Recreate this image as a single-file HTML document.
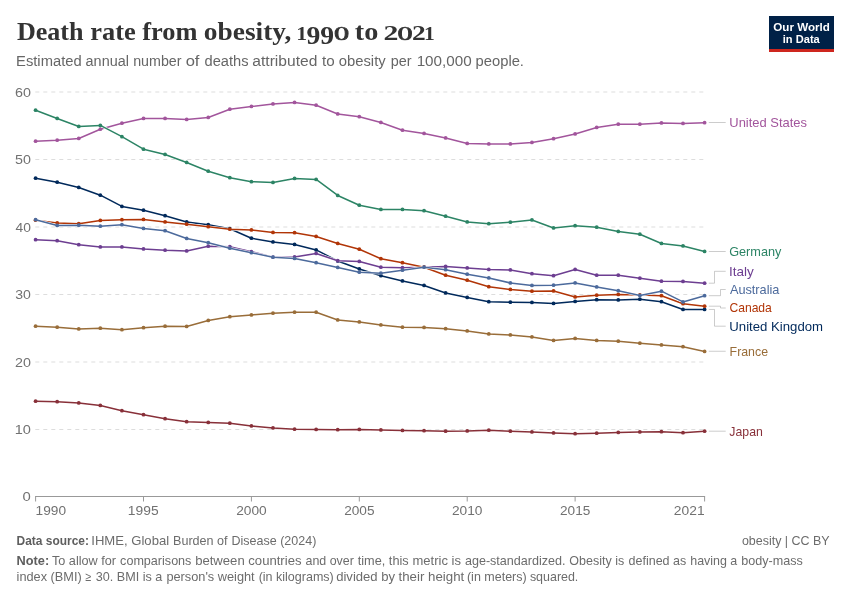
<!DOCTYPE html>
<html lang="en"><head><meta charset="utf-8"><title>Death rate from obesity, 1990 to 2021</title>
<style>
html,body{margin:0;padding:0;background:#fff}
svg{display:block}
text{font-family:"Liberation Sans",sans-serif;white-space:pre}
.t{font-family:"Liberation Serif",serif}
.b{font-weight:bold}
</style></head><body>
<svg width="850" height="600" viewBox="0 0 850 600">
<rect width="850" height="600" fill="#fff"/>
<g id="gfx">
<rect x="769" y="16" width="65" height="36" fill="#002147"/><rect x="769" y="49" width="65" height="3" fill="#ce261e"/>
<line x1="35.3" x2="704.6" y1="92" y2="92" stroke="#ddd" stroke-width="1" stroke-dasharray="4,4"/>
<line x1="35.3" x2="704.6" y1="159.5" y2="159.5" stroke="#ddd" stroke-width="1" stroke-dasharray="4,4"/>
<line x1="35.3" x2="704.6" y1="227" y2="227" stroke="#ddd" stroke-width="1" stroke-dasharray="4,4"/>
<line x1="35.3" x2="704.6" y1="294.5" y2="294.5" stroke="#ddd" stroke-width="1" stroke-dasharray="4,4"/>
<line x1="35.3" x2="704.6" y1="362" y2="362" stroke="#ddd" stroke-width="1" stroke-dasharray="4,4"/>
<line x1="35.3" x2="704.6" y1="429.5" y2="429.5" stroke="#ddd" stroke-width="1" stroke-dasharray="4,4"/>
<line x1="35.1" x2="705.1" y1="496.5" y2="496.5" stroke="#999" stroke-width="1"/>
<line x1="35.60" x2="35.60" y1="496.5" y2="501.5" stroke="#999" stroke-width="1"/>
<line x1="143.50" x2="143.50" y1="496.5" y2="501.5" stroke="#999" stroke-width="1"/>
<line x1="251.41" x2="251.41" y1="496.5" y2="501.5" stroke="#999" stroke-width="1"/>
<line x1="359.31" x2="359.31" y1="496.5" y2="501.5" stroke="#999" stroke-width="1"/>
<line x1="467.21" x2="467.21" y1="496.5" y2="501.5" stroke="#999" stroke-width="1"/>
<line x1="575.12" x2="575.12" y1="496.5" y2="501.5" stroke="#999" stroke-width="1"/>
<line x1="704.60" x2="704.60" y1="496.5" y2="501.5" stroke="#999" stroke-width="1"/>
<g><path d="M35.60,401.20 L57.18,401.70 L78.76,402.95 L100.34,405.45 L121.92,410.70 L143.50,414.70 L165.08,418.70 L186.66,421.70 L208.25,422.45 L229.83,423.20 L251.41,425.95 L272.99,427.95 L294.57,429.20 L316.15,429.45 L337.73,429.70 L359.31,429.45 L380.89,429.95 L402.47,430.45 L424.05,430.70 L445.63,431.20 L467.21,430.95 L488.79,430.20 L510.37,431.20 L531.95,431.95 L553.54,432.95 L575.12,433.70 L596.70,433.20 L618.28,432.45 L639.86,431.95 L661.44,431.70 L683.02,432.70 L704.60,431.20" fill="none" stroke="#fff" stroke-width="2.5" stroke-linejoin="round"/><path d="M35.60,401.20 L57.18,401.70 L78.76,402.95 L100.34,405.45 L121.92,410.70 L143.50,414.70 L165.08,418.70 L186.66,421.70 L208.25,422.45 L229.83,423.20 L251.41,425.95 L272.99,427.95 L294.57,429.20 L316.15,429.45 L337.73,429.70 L359.31,429.45 L380.89,429.95 L402.47,430.45 L424.05,430.70 L445.63,431.20 L467.21,430.95 L488.79,430.20 L510.37,431.20 L531.95,431.95 L553.54,432.95 L575.12,433.70 L596.70,433.20 L618.28,432.45 L639.86,431.95 L661.44,431.70 L683.02,432.70 L704.60,431.20" fill="none" stroke="#883039" stroke-width="1.5" stroke-linejoin="round" stroke-linecap="butt"/><g fill="#883039"><circle cx="35.60" cy="401.20" r="1.9"/><circle cx="57.18" cy="401.70" r="1.9"/><circle cx="78.76" cy="402.95" r="1.9"/><circle cx="100.34" cy="405.45" r="1.9"/><circle cx="121.92" cy="410.70" r="1.9"/><circle cx="143.50" cy="414.70" r="1.9"/><circle cx="165.08" cy="418.70" r="1.9"/><circle cx="186.66" cy="421.70" r="1.9"/><circle cx="208.25" cy="422.45" r="1.9"/><circle cx="229.83" cy="423.20" r="1.9"/><circle cx="251.41" cy="425.95" r="1.9"/><circle cx="272.99" cy="427.95" r="1.9"/><circle cx="294.57" cy="429.20" r="1.9"/><circle cx="316.15" cy="429.45" r="1.9"/><circle cx="337.73" cy="429.70" r="1.9"/><circle cx="359.31" cy="429.45" r="1.9"/><circle cx="380.89" cy="429.95" r="1.9"/><circle cx="402.47" cy="430.45" r="1.9"/><circle cx="424.05" cy="430.70" r="1.9"/><circle cx="445.63" cy="431.20" r="1.9"/><circle cx="467.21" cy="430.95" r="1.9"/><circle cx="488.79" cy="430.20" r="1.9"/><circle cx="510.37" cy="431.20" r="1.9"/><circle cx="531.95" cy="431.95" r="1.9"/><circle cx="553.54" cy="432.95" r="1.9"/><circle cx="575.12" cy="433.70" r="1.9"/><circle cx="596.70" cy="433.20" r="1.9"/><circle cx="618.28" cy="432.45" r="1.9"/><circle cx="639.86" cy="431.95" r="1.9"/><circle cx="661.44" cy="431.70" r="1.9"/><circle cx="683.02" cy="432.70" r="1.9"/><circle cx="704.60" cy="431.20" r="1.9"/></g></g>
<g><path d="M35.60,326.20 L57.18,327.20 L78.76,328.95 L100.34,328.20 L121.92,329.70 L143.50,327.70 L165.08,326.20 L186.66,326.45 L208.25,320.45 L229.83,316.70 L251.41,314.95 L272.99,313.20 L294.57,312.20 L316.15,312.20 L337.73,319.95 L359.31,321.95 L380.89,324.95 L402.47,327.20 L424.05,327.45 L445.63,328.70 L467.21,330.95 L488.79,333.95 L510.37,334.95 L531.95,336.95 L553.54,340.45 L575.12,338.45 L596.70,340.45 L618.28,341.20 L639.86,343.20 L661.44,344.95 L683.02,346.70 L704.60,351.45" fill="none" stroke="#fff" stroke-width="2.5" stroke-linejoin="round"/><path d="M35.60,326.20 L57.18,327.20 L78.76,328.95 L100.34,328.20 L121.92,329.70 L143.50,327.70 L165.08,326.20 L186.66,326.45 L208.25,320.45 L229.83,316.70 L251.41,314.95 L272.99,313.20 L294.57,312.20 L316.15,312.20 L337.73,319.95 L359.31,321.95 L380.89,324.95 L402.47,327.20 L424.05,327.45 L445.63,328.70 L467.21,330.95 L488.79,333.95 L510.37,334.95 L531.95,336.95 L553.54,340.45 L575.12,338.45 L596.70,340.45 L618.28,341.20 L639.86,343.20 L661.44,344.95 L683.02,346.70 L704.60,351.45" fill="none" stroke="#996d39" stroke-width="1.5" stroke-linejoin="round" stroke-linecap="butt"/><g fill="#996d39"><circle cx="35.60" cy="326.20" r="1.9"/><circle cx="57.18" cy="327.20" r="1.9"/><circle cx="78.76" cy="328.95" r="1.9"/><circle cx="100.34" cy="328.20" r="1.9"/><circle cx="121.92" cy="329.70" r="1.9"/><circle cx="143.50" cy="327.70" r="1.9"/><circle cx="165.08" cy="326.20" r="1.9"/><circle cx="186.66" cy="326.45" r="1.9"/><circle cx="208.25" cy="320.45" r="1.9"/><circle cx="229.83" cy="316.70" r="1.9"/><circle cx="251.41" cy="314.95" r="1.9"/><circle cx="272.99" cy="313.20" r="1.9"/><circle cx="294.57" cy="312.20" r="1.9"/><circle cx="316.15" cy="312.20" r="1.9"/><circle cx="337.73" cy="319.95" r="1.9"/><circle cx="359.31" cy="321.95" r="1.9"/><circle cx="380.89" cy="324.95" r="1.9"/><circle cx="402.47" cy="327.20" r="1.9"/><circle cx="424.05" cy="327.45" r="1.9"/><circle cx="445.63" cy="328.70" r="1.9"/><circle cx="467.21" cy="330.95" r="1.9"/><circle cx="488.79" cy="333.95" r="1.9"/><circle cx="510.37" cy="334.95" r="1.9"/><circle cx="531.95" cy="336.95" r="1.9"/><circle cx="553.54" cy="340.45" r="1.9"/><circle cx="575.12" cy="338.45" r="1.9"/><circle cx="596.70" cy="340.45" r="1.9"/><circle cx="618.28" cy="341.20" r="1.9"/><circle cx="639.86" cy="343.20" r="1.9"/><circle cx="661.44" cy="344.95" r="1.9"/><circle cx="683.02" cy="346.70" r="1.9"/><circle cx="704.60" cy="351.45" r="1.9"/></g></g>
<g><path d="M35.60,178.20 L57.18,182.20 L78.76,187.45 L100.34,195.20 L121.92,206.45 L143.50,210.20 L165.08,215.70 L186.66,221.95 L208.25,224.70 L229.83,228.70 L251.41,238.20 L272.99,241.95 L294.57,244.45 L316.15,249.95 L337.73,260.95 L359.31,268.95 L380.89,275.70 L402.47,280.95 L424.05,285.45 L445.63,292.95 L467.21,297.45 L488.79,301.70 L510.37,302.20 L531.95,302.45 L553.54,303.45 L575.12,301.45 L596.70,299.70 L618.28,299.95 L639.86,299.20 L661.44,301.70 L683.02,309.45 L704.60,309.45" fill="none" stroke="#fff" stroke-width="2.5" stroke-linejoin="round"/><path d="M35.60,178.20 L57.18,182.20 L78.76,187.45 L100.34,195.20 L121.92,206.45 L143.50,210.20 L165.08,215.70 L186.66,221.95 L208.25,224.70 L229.83,228.70 L251.41,238.20 L272.99,241.95 L294.57,244.45 L316.15,249.95 L337.73,260.95 L359.31,268.95 L380.89,275.70 L402.47,280.95 L424.05,285.45 L445.63,292.95 L467.21,297.45 L488.79,301.70 L510.37,302.20 L531.95,302.45 L553.54,303.45 L575.12,301.45 L596.70,299.70 L618.28,299.95 L639.86,299.20 L661.44,301.70 L683.02,309.45 L704.60,309.45" fill="none" stroke="#00295b" stroke-width="1.5" stroke-linejoin="round" stroke-linecap="butt"/><g fill="#00295b"><circle cx="35.60" cy="178.20" r="1.9"/><circle cx="57.18" cy="182.20" r="1.9"/><circle cx="78.76" cy="187.45" r="1.9"/><circle cx="100.34" cy="195.20" r="1.9"/><circle cx="121.92" cy="206.45" r="1.9"/><circle cx="143.50" cy="210.20" r="1.9"/><circle cx="165.08" cy="215.70" r="1.9"/><circle cx="186.66" cy="221.95" r="1.9"/><circle cx="208.25" cy="224.70" r="1.9"/><circle cx="229.83" cy="228.70" r="1.9"/><circle cx="251.41" cy="238.20" r="1.9"/><circle cx="272.99" cy="241.95" r="1.9"/><circle cx="294.57" cy="244.45" r="1.9"/><circle cx="316.15" cy="249.95" r="1.9"/><circle cx="337.73" cy="260.95" r="1.9"/><circle cx="359.31" cy="268.95" r="1.9"/><circle cx="380.89" cy="275.70" r="1.9"/><circle cx="402.47" cy="280.95" r="1.9"/><circle cx="424.05" cy="285.45" r="1.9"/><circle cx="445.63" cy="292.95" r="1.9"/><circle cx="467.21" cy="297.45" r="1.9"/><circle cx="488.79" cy="301.70" r="1.9"/><circle cx="510.37" cy="302.20" r="1.9"/><circle cx="531.95" cy="302.45" r="1.9"/><circle cx="553.54" cy="303.45" r="1.9"/><circle cx="575.12" cy="301.45" r="1.9"/><circle cx="596.70" cy="299.70" r="1.9"/><circle cx="618.28" cy="299.95" r="1.9"/><circle cx="639.86" cy="299.20" r="1.9"/><circle cx="661.44" cy="301.70" r="1.9"/><circle cx="683.02" cy="309.45" r="1.9"/><circle cx="704.60" cy="309.45" r="1.9"/></g></g>
<g><path d="M35.60,239.70 L57.18,240.70 L78.76,244.70 L100.34,246.95 L121.92,246.95 L143.50,248.95 L165.08,250.20 L186.66,250.95 L208.25,246.20 L229.83,246.70 L251.41,251.70 L272.99,257.20 L294.57,256.95 L316.15,253.45 L337.73,260.70 L359.31,261.45 L380.89,267.20 L402.47,267.70 L424.05,267.20 L445.63,266.45 L467.21,267.95 L488.79,269.45 L510.37,269.95 L531.95,273.70 L553.54,275.70 L575.12,269.45 L596.70,275.20 L618.28,275.20 L639.86,278.20 L661.44,281.20 L683.02,281.45 L704.60,283.20" fill="none" stroke="#fff" stroke-width="2.5" stroke-linejoin="round"/><path d="M35.60,239.70 L57.18,240.70 L78.76,244.70 L100.34,246.95 L121.92,246.95 L143.50,248.95 L165.08,250.20 L186.66,250.95 L208.25,246.20 L229.83,246.70 L251.41,251.70 L272.99,257.20 L294.57,256.95 L316.15,253.45 L337.73,260.70 L359.31,261.45 L380.89,267.20 L402.47,267.70 L424.05,267.20 L445.63,266.45 L467.21,267.95 L488.79,269.45 L510.37,269.95 L531.95,273.70 L553.54,275.70 L575.12,269.45 L596.70,275.20 L618.28,275.20 L639.86,278.20 L661.44,281.20 L683.02,281.45 L704.60,283.20" fill="none" stroke="#6d3e91" stroke-width="1.5" stroke-linejoin="round" stroke-linecap="butt"/><g fill="#6d3e91"><circle cx="35.60" cy="239.70" r="1.9"/><circle cx="57.18" cy="240.70" r="1.9"/><circle cx="78.76" cy="244.70" r="1.9"/><circle cx="100.34" cy="246.95" r="1.9"/><circle cx="121.92" cy="246.95" r="1.9"/><circle cx="143.50" cy="248.95" r="1.9"/><circle cx="165.08" cy="250.20" r="1.9"/><circle cx="186.66" cy="250.95" r="1.9"/><circle cx="208.25" cy="246.20" r="1.9"/><circle cx="229.83" cy="246.70" r="1.9"/><circle cx="251.41" cy="251.70" r="1.9"/><circle cx="272.99" cy="257.20" r="1.9"/><circle cx="294.57" cy="256.95" r="1.9"/><circle cx="316.15" cy="253.45" r="1.9"/><circle cx="337.73" cy="260.70" r="1.9"/><circle cx="359.31" cy="261.45" r="1.9"/><circle cx="380.89" cy="267.20" r="1.9"/><circle cx="402.47" cy="267.70" r="1.9"/><circle cx="424.05" cy="267.20" r="1.9"/><circle cx="445.63" cy="266.45" r="1.9"/><circle cx="467.21" cy="267.95" r="1.9"/><circle cx="488.79" cy="269.45" r="1.9"/><circle cx="510.37" cy="269.95" r="1.9"/><circle cx="531.95" cy="273.70" r="1.9"/><circle cx="553.54" cy="275.70" r="1.9"/><circle cx="575.12" cy="269.45" r="1.9"/><circle cx="596.70" cy="275.20" r="1.9"/><circle cx="618.28" cy="275.20" r="1.9"/><circle cx="639.86" cy="278.20" r="1.9"/><circle cx="661.44" cy="281.20" r="1.9"/><circle cx="683.02" cy="281.45" r="1.9"/><circle cx="704.60" cy="283.20" r="1.9"/></g></g>
<g><path d="M35.60,220.20 L57.18,222.95 L78.76,223.70 L100.34,220.45 L121.92,219.70 L143.50,219.45 L165.08,221.95 L186.66,224.20 L208.25,226.70 L229.83,229.20 L251.41,229.95 L272.99,232.45 L294.57,232.70 L316.15,236.45 L337.73,243.45 L359.31,249.20 L380.89,258.70 L402.47,262.70 L424.05,267.20 L445.63,275.20 L467.21,280.20 L488.79,286.70 L510.37,289.45 L531.95,291.20 L553.54,290.95 L575.12,296.95 L596.70,295.20 L618.28,294.45 L639.86,294.95 L661.44,295.70 L683.02,303.70 L704.60,306.20" fill="none" stroke="#fff" stroke-width="2.5" stroke-linejoin="round"/><path d="M35.60,220.20 L57.18,222.95 L78.76,223.70 L100.34,220.45 L121.92,219.70 L143.50,219.45 L165.08,221.95 L186.66,224.20 L208.25,226.70 L229.83,229.20 L251.41,229.95 L272.99,232.45 L294.57,232.70 L316.15,236.45 L337.73,243.45 L359.31,249.20 L380.89,258.70 L402.47,262.70 L424.05,267.20 L445.63,275.20 L467.21,280.20 L488.79,286.70 L510.37,289.45 L531.95,291.20 L553.54,290.95 L575.12,296.95 L596.70,295.20 L618.28,294.45 L639.86,294.95 L661.44,295.70 L683.02,303.70 L704.60,306.20" fill="none" stroke="#b13507" stroke-width="1.5" stroke-linejoin="round" stroke-linecap="butt"/><g fill="#b13507"><circle cx="35.60" cy="220.20" r="1.9"/><circle cx="57.18" cy="222.95" r="1.9"/><circle cx="78.76" cy="223.70" r="1.9"/><circle cx="100.34" cy="220.45" r="1.9"/><circle cx="121.92" cy="219.70" r="1.9"/><circle cx="143.50" cy="219.45" r="1.9"/><circle cx="165.08" cy="221.95" r="1.9"/><circle cx="186.66" cy="224.20" r="1.9"/><circle cx="208.25" cy="226.70" r="1.9"/><circle cx="229.83" cy="229.20" r="1.9"/><circle cx="251.41" cy="229.95" r="1.9"/><circle cx="272.99" cy="232.45" r="1.9"/><circle cx="294.57" cy="232.70" r="1.9"/><circle cx="316.15" cy="236.45" r="1.9"/><circle cx="337.73" cy="243.45" r="1.9"/><circle cx="359.31" cy="249.20" r="1.9"/><circle cx="380.89" cy="258.70" r="1.9"/><circle cx="402.47" cy="262.70" r="1.9"/><circle cx="424.05" cy="267.20" r="1.9"/><circle cx="445.63" cy="275.20" r="1.9"/><circle cx="467.21" cy="280.20" r="1.9"/><circle cx="488.79" cy="286.70" r="1.9"/><circle cx="510.37" cy="289.45" r="1.9"/><circle cx="531.95" cy="291.20" r="1.9"/><circle cx="553.54" cy="290.95" r="1.9"/><circle cx="575.12" cy="296.95" r="1.9"/><circle cx="596.70" cy="295.20" r="1.9"/><circle cx="618.28" cy="294.45" r="1.9"/><circle cx="639.86" cy="294.95" r="1.9"/><circle cx="661.44" cy="295.70" r="1.9"/><circle cx="683.02" cy="303.70" r="1.9"/><circle cx="704.60" cy="306.20" r="1.9"/></g></g>
<g><path d="M35.60,219.70 L57.18,225.45 L78.76,225.20 L100.34,226.20 L121.92,224.70 L143.50,228.45 L165.08,230.70 L186.66,238.45 L208.25,242.70 L229.83,248.20 L251.41,252.70 L272.99,257.20 L294.57,258.45 L316.15,262.70 L337.73,267.45 L359.31,272.20 L380.89,273.20 L402.47,270.20 L424.05,267.20 L445.63,269.70 L467.21,274.20 L488.79,277.95 L510.37,282.95 L531.95,285.45 L553.54,285.20 L575.12,282.95 L596.70,286.95 L618.28,290.70 L639.86,295.45 L661.44,291.20 L683.02,301.95 L704.60,295.70" fill="none" stroke="#fff" stroke-width="2.5" stroke-linejoin="round"/><path d="M35.60,219.70 L57.18,225.45 L78.76,225.20 L100.34,226.20 L121.92,224.70 L143.50,228.45 L165.08,230.70 L186.66,238.45 L208.25,242.70 L229.83,248.20 L251.41,252.70 L272.99,257.20 L294.57,258.45 L316.15,262.70 L337.73,267.45 L359.31,272.20 L380.89,273.20 L402.47,270.20 L424.05,267.20 L445.63,269.70 L467.21,274.20 L488.79,277.95 L510.37,282.95 L531.95,285.45 L553.54,285.20 L575.12,282.95 L596.70,286.95 L618.28,290.70 L639.86,295.45 L661.44,291.20 L683.02,301.95 L704.60,295.70" fill="none" stroke="#4c6a9c" stroke-width="1.5" stroke-linejoin="round" stroke-linecap="butt"/><g fill="#4c6a9c"><circle cx="35.60" cy="219.70" r="1.9"/><circle cx="57.18" cy="225.45" r="1.9"/><circle cx="78.76" cy="225.20" r="1.9"/><circle cx="100.34" cy="226.20" r="1.9"/><circle cx="121.92" cy="224.70" r="1.9"/><circle cx="143.50" cy="228.45" r="1.9"/><circle cx="165.08" cy="230.70" r="1.9"/><circle cx="186.66" cy="238.45" r="1.9"/><circle cx="208.25" cy="242.70" r="1.9"/><circle cx="229.83" cy="248.20" r="1.9"/><circle cx="251.41" cy="252.70" r="1.9"/><circle cx="272.99" cy="257.20" r="1.9"/><circle cx="294.57" cy="258.45" r="1.9"/><circle cx="316.15" cy="262.70" r="1.9"/><circle cx="337.73" cy="267.45" r="1.9"/><circle cx="359.31" cy="272.20" r="1.9"/><circle cx="380.89" cy="273.20" r="1.9"/><circle cx="402.47" cy="270.20" r="1.9"/><circle cx="424.05" cy="267.20" r="1.9"/><circle cx="445.63" cy="269.70" r="1.9"/><circle cx="467.21" cy="274.20" r="1.9"/><circle cx="488.79" cy="277.95" r="1.9"/><circle cx="510.37" cy="282.95" r="1.9"/><circle cx="531.95" cy="285.45" r="1.9"/><circle cx="553.54" cy="285.20" r="1.9"/><circle cx="575.12" cy="282.95" r="1.9"/><circle cx="596.70" cy="286.95" r="1.9"/><circle cx="618.28" cy="290.70" r="1.9"/><circle cx="639.86" cy="295.45" r="1.9"/><circle cx="661.44" cy="291.20" r="1.9"/><circle cx="683.02" cy="301.95" r="1.9"/><circle cx="704.60" cy="295.70" r="1.9"/></g></g>
<g><path d="M35.60,141.20 L57.18,140.20 L78.76,138.45 L100.34,129.20 L121.92,123.20 L143.50,118.45 L165.08,118.45 L186.66,119.45 L208.25,117.45 L229.83,109.20 L251.41,106.45 L272.99,103.95 L294.57,102.45 L316.15,105.20 L337.73,113.95 L359.31,116.70 L380.89,122.45 L402.47,130.20 L424.05,133.45 L445.63,137.95 L467.21,143.45 L488.79,143.95 L510.37,143.95 L531.95,142.45 L553.54,138.70 L575.12,133.95 L596.70,127.45 L618.28,124.20 L639.86,124.20 L661.44,122.95 L683.02,123.45 L704.60,122.70" fill="none" stroke="#fff" stroke-width="2.5" stroke-linejoin="round"/><path d="M35.60,141.20 L57.18,140.20 L78.76,138.45 L100.34,129.20 L121.92,123.20 L143.50,118.45 L165.08,118.45 L186.66,119.45 L208.25,117.45 L229.83,109.20 L251.41,106.45 L272.99,103.95 L294.57,102.45 L316.15,105.20 L337.73,113.95 L359.31,116.70 L380.89,122.45 L402.47,130.20 L424.05,133.45 L445.63,137.95 L467.21,143.45 L488.79,143.95 L510.37,143.95 L531.95,142.45 L553.54,138.70 L575.12,133.95 L596.70,127.45 L618.28,124.20 L639.86,124.20 L661.44,122.95 L683.02,123.45 L704.60,122.70" fill="none" stroke="#a2559c" stroke-width="1.5" stroke-linejoin="round" stroke-linecap="butt"/><g fill="#a2559c"><circle cx="35.60" cy="141.20" r="1.9"/><circle cx="57.18" cy="140.20" r="1.9"/><circle cx="78.76" cy="138.45" r="1.9"/><circle cx="100.34" cy="129.20" r="1.9"/><circle cx="121.92" cy="123.20" r="1.9"/><circle cx="143.50" cy="118.45" r="1.9"/><circle cx="165.08" cy="118.45" r="1.9"/><circle cx="186.66" cy="119.45" r="1.9"/><circle cx="208.25" cy="117.45" r="1.9"/><circle cx="229.83" cy="109.20" r="1.9"/><circle cx="251.41" cy="106.45" r="1.9"/><circle cx="272.99" cy="103.95" r="1.9"/><circle cx="294.57" cy="102.45" r="1.9"/><circle cx="316.15" cy="105.20" r="1.9"/><circle cx="337.73" cy="113.95" r="1.9"/><circle cx="359.31" cy="116.70" r="1.9"/><circle cx="380.89" cy="122.45" r="1.9"/><circle cx="402.47" cy="130.20" r="1.9"/><circle cx="424.05" cy="133.45" r="1.9"/><circle cx="445.63" cy="137.95" r="1.9"/><circle cx="467.21" cy="143.45" r="1.9"/><circle cx="488.79" cy="143.95" r="1.9"/><circle cx="510.37" cy="143.95" r="1.9"/><circle cx="531.95" cy="142.45" r="1.9"/><circle cx="553.54" cy="138.70" r="1.9"/><circle cx="575.12" cy="133.95" r="1.9"/><circle cx="596.70" cy="127.45" r="1.9"/><circle cx="618.28" cy="124.20" r="1.9"/><circle cx="639.86" cy="124.20" r="1.9"/><circle cx="661.44" cy="122.95" r="1.9"/><circle cx="683.02" cy="123.45" r="1.9"/><circle cx="704.60" cy="122.70" r="1.9"/></g></g>
<g><path d="M35.60,110.20 L57.18,118.45 L78.76,126.45 L100.34,125.45 L121.92,136.70 L143.50,149.20 L165.08,154.45 L186.66,162.45 L208.25,171.20 L229.83,177.70 L251.41,181.70 L272.99,182.45 L294.57,178.45 L316.15,179.45 L337.73,195.45 L359.31,205.20 L380.89,209.45 L402.47,209.45 L424.05,210.70 L445.63,216.20 L467.21,221.95 L488.79,223.70 L510.37,222.20 L531.95,219.95 L553.54,227.95 L575.12,225.70 L596.70,227.20 L618.28,231.45 L639.86,234.20 L661.44,243.45 L683.02,245.95 L704.60,251.45" fill="none" stroke="#fff" stroke-width="2.5" stroke-linejoin="round"/><path d="M35.60,110.20 L57.18,118.45 L78.76,126.45 L100.34,125.45 L121.92,136.70 L143.50,149.20 L165.08,154.45 L186.66,162.45 L208.25,171.20 L229.83,177.70 L251.41,181.70 L272.99,182.45 L294.57,178.45 L316.15,179.45 L337.73,195.45 L359.31,205.20 L380.89,209.45 L402.47,209.45 L424.05,210.70 L445.63,216.20 L467.21,221.95 L488.79,223.70 L510.37,222.20 L531.95,219.95 L553.54,227.95 L575.12,225.70 L596.70,227.20 L618.28,231.45 L639.86,234.20 L661.44,243.45 L683.02,245.95 L704.60,251.45" fill="none" stroke="#2c8465" stroke-width="1.5" stroke-linejoin="round" stroke-linecap="butt"/><g fill="#2c8465"><circle cx="35.60" cy="110.20" r="1.9"/><circle cx="57.18" cy="118.45" r="1.9"/><circle cx="78.76" cy="126.45" r="1.9"/><circle cx="100.34" cy="125.45" r="1.9"/><circle cx="121.92" cy="136.70" r="1.9"/><circle cx="143.50" cy="149.20" r="1.9"/><circle cx="165.08" cy="154.45" r="1.9"/><circle cx="186.66" cy="162.45" r="1.9"/><circle cx="208.25" cy="171.20" r="1.9"/><circle cx="229.83" cy="177.70" r="1.9"/><circle cx="251.41" cy="181.70" r="1.9"/><circle cx="272.99" cy="182.45" r="1.9"/><circle cx="294.57" cy="178.45" r="1.9"/><circle cx="316.15" cy="179.45" r="1.9"/><circle cx="337.73" cy="195.45" r="1.9"/><circle cx="359.31" cy="205.20" r="1.9"/><circle cx="380.89" cy="209.45" r="1.9"/><circle cx="402.47" cy="209.45" r="1.9"/><circle cx="424.05" cy="210.70" r="1.9"/><circle cx="445.63" cy="216.20" r="1.9"/><circle cx="467.21" cy="221.95" r="1.9"/><circle cx="488.79" cy="223.70" r="1.9"/><circle cx="510.37" cy="222.20" r="1.9"/><circle cx="531.95" cy="219.95" r="1.9"/><circle cx="553.54" cy="227.95" r="1.9"/><circle cx="575.12" cy="225.70" r="1.9"/><circle cx="596.70" cy="227.20" r="1.9"/><circle cx="618.28" cy="231.45" r="1.9"/><circle cx="639.86" cy="234.20" r="1.9"/><circle cx="661.44" cy="243.45" r="1.9"/><circle cx="683.02" cy="245.95" r="1.9"/><circle cx="704.60" cy="251.45" r="1.9"/></g></g>
<path d="M708.8,122.5 L725.7,122.5" fill="none" stroke="#999" stroke-width="0.5"/>
<path d="M708.8,251.5 L725.7,251.5" fill="none" stroke="#999" stroke-width="0.5"/>
<path d="M708.8,283.20 L714.5,283.20 L714.5,271.3 L725.7,271.3" fill="none" stroke="#999" stroke-width="0.5"/>
<path d="M708.8,295.70 L720.5,295.70 L720.5,289.5 L725.7,289.5" fill="none" stroke="#999" stroke-width="0.5"/>
<path d="M708.8,306.20 L720.5,306.20 L720.5,308 L725.7,308" fill="none" stroke="#999" stroke-width="0.5"/>
<path d="M708.8,309.45 L714.5,309.45 L714.5,326.2 L725.7,326.2" fill="none" stroke="#999" stroke-width="0.5"/>
<path d="M708.8,351.25 L725.7,351.25" fill="none" stroke="#999" stroke-width="0.5"/>
<path d="M708.8,431.2 L725.7,431.2" fill="none" stroke="#999" stroke-width="0.5"/>
</g>
<text><tspan id="ti0" class="t b" x="16.95" y="40.00" font-size="26.00" fill="#333" textLength="66.62" lengthAdjust="spacingAndGlyphs">Death</tspan> <tspan id="ti1" class="t b" x="90.25" y="40.00" font-size="26.00" fill="#333" textLength="45.50" lengthAdjust="spacingAndGlyphs">rate</tspan> <tspan id="ti2" class="t b" x="142.30" y="40.00" font-size="26.00" fill="#333" textLength="55.20" lengthAdjust="spacingAndGlyphs">from</tspan> <tspan id="ti3" class="t b" x="203.85" y="40.00" font-size="26.00" fill="#333" textLength="87.47" lengthAdjust="spacingAndGlyphs">obesity,</tspan> <tspan id="dg0" class="t b" x="296.25" y="40.30" font-size="19.79" fill="#333" textLength="10.89" lengthAdjust="spacingAndGlyphs">1</tspan><tspan id="dg1" class="t b" x="306.45" y="43.55" font-size="25.37" fill="#333" textLength="13.80" lengthAdjust="spacingAndGlyphs">9</tspan><tspan id="dg2" class="t b" x="320.15" y="43.55" font-size="25.37" fill="#333" textLength="13.80" lengthAdjust="spacingAndGlyphs">9</tspan><tspan id="dg3" class="t" stroke="#333" stroke-width="0.7" x="333.95" y="40.30" font-size="19.80" fill="#333" textLength="15.21" lengthAdjust="spacingAndGlyphs">0</tspan> <tspan id="ti4" class="t b" x="354.85" y="40.00" font-size="26.00" fill="#333" textLength="23.54" lengthAdjust="spacingAndGlyphs">to</tspan> <tspan id="dg4" class="t b" x="383.45" y="40.20" font-size="20.16" fill="#333" textLength="14.91" lengthAdjust="spacingAndGlyphs">2</tspan><tspan id="dg5" class="t" stroke="#333" stroke-width="0.7" x="397.45" y="40.20" font-size="19.81" fill="#333" textLength="15.13" lengthAdjust="spacingAndGlyphs">0</tspan><tspan id="dg6" class="t b" x="412.05" y="40.20" font-size="20.16" fill="#333" textLength="13.78" lengthAdjust="spacingAndGlyphs">2</tspan><tspan id="dg7" class="t b" x="423.95" y="40.30" font-size="19.79" fill="#333" textLength="10.82" lengthAdjust="spacingAndGlyphs">1</tspan></text>
<text><tspan id="su0" x="16.05" y="66.00" font-size="14.00" fill="#666" textLength="65.60" lengthAdjust="spacingAndGlyphs">Estimated</tspan> <tspan id="su1" x="85.60" y="66.00" font-size="14.00" fill="#666" textLength="43.31" lengthAdjust="spacingAndGlyphs">annual</tspan> <tspan id="su2" x="133.20" y="66.00" font-size="14.00" fill="#666" textLength="48.37" lengthAdjust="spacingAndGlyphs">number</tspan> <tspan id="su3" x="185.65" y="66.00" font-size="14.00" fill="#666" textLength="13.83" lengthAdjust="spacingAndGlyphs">of</tspan> <tspan id="su4" x="204.50" y="66.00" font-size="14.00" fill="#666" textLength="43.96" lengthAdjust="spacingAndGlyphs">deaths</tspan> <tspan id="su5" x="252.35" y="66.00" font-size="14.00" fill="#666" textLength="64.95" lengthAdjust="spacingAndGlyphs">attributed</tspan> <tspan id="su6" x="322.05" y="66.00" font-size="14.00" fill="#666" textLength="12.68" lengthAdjust="spacingAndGlyphs">to</tspan> <tspan id="su7" x="338.75" y="66.00" font-size="14.00" fill="#666" textLength="46.91" lengthAdjust="spacingAndGlyphs">obesity</tspan> <tspan id="su8" x="390.70" y="66.00" font-size="14.00" fill="#666" textLength="20.81" lengthAdjust="spacingAndGlyphs">per</tspan> <tspan id="su9" x="416.65" y="66.00" font-size="14.00" fill="#666" textLength="55.06" lengthAdjust="spacingAndGlyphs">100,000</tspan> <tspan id="su10" x="475.60" y="66.00" font-size="14.00" fill="#666" textLength="48.38" lengthAdjust="spacingAndGlyphs">people.</tspan></text>
<text><tspan id="f1a" class="b" x="16.55" y="545.20" font-size="13.00" fill="#5e5e5e" textLength="72.35" lengthAdjust="spacingAndGlyphs">Data source:</tspan> <tspan id="f1b" x="91.25" y="545.20" font-size="13.00" fill="#6c6c6c" textLength="77.88" lengthAdjust="spacingAndGlyphs">IHME, Global</tspan> <tspan id="f1c" x="173.00" y="545.20" font-size="13.00" fill="#6c6c6c" textLength="54.52" lengthAdjust="spacingAndGlyphs">Burden of</tspan> <tspan id="f1d" x="231.50" y="545.20" font-size="13.00" fill="#6c6c6c" textLength="84.84" lengthAdjust="spacingAndGlyphs">Disease (2024)</tspan></text>
<text><tspan id="f2a" class="b" x="16.55" y="564.80" font-size="13.00" fill="#5e5e5e" textLength="32.63" lengthAdjust="spacingAndGlyphs">Note:</tspan> <tspan id="f2b" x="51.95" y="564.80" font-size="13.00" fill="#6c6c6c" textLength="64.06" lengthAdjust="spacingAndGlyphs">To allow for</tspan> <tspan id="f2c" x="120.10" y="564.80" font-size="13.00" fill="#6c6c6c" textLength="71.32" lengthAdjust="spacingAndGlyphs">comparisons</tspan> <tspan id="f2d" x="195.15" y="564.80" font-size="13.00" fill="#6c6c6c" textLength="106.35" lengthAdjust="spacingAndGlyphs">between countries</tspan> <tspan id="f2e" x="305.50" y="564.80" font-size="13.00" fill="#6c6c6c" textLength="48.39" lengthAdjust="spacingAndGlyphs">and over</tspan> <tspan id="f2f" x="357.75" y="564.80" font-size="13.00" fill="#6c6c6c" textLength="50.89" lengthAdjust="spacingAndGlyphs">time, this</tspan> <tspan id="f2g" x="412.50" y="564.80" font-size="13.00" fill="#6c6c6c" textLength="48.39" lengthAdjust="spacingAndGlyphs">metric is</tspan> <tspan id="f2h" x="464.90" y="564.80" font-size="13.00" fill="#6c6c6c" textLength="100.71" lengthAdjust="spacingAndGlyphs">age-standardized.</tspan> <tspan id="f2i" x="569.30" y="564.80" font-size="13.00" fill="#6c6c6c" textLength="54.93" lengthAdjust="spacingAndGlyphs">Obesity is</tspan> <tspan id="f2j" x="628.60" y="564.80" font-size="13.00" fill="#6c6c6c" textLength="57.63" lengthAdjust="spacingAndGlyphs">defined as</tspan> <tspan id="f2k" x="690.25" y="564.80" font-size="13.00" fill="#6c6c6c" textLength="46.99" lengthAdjust="spacingAndGlyphs">having a</tspan> <tspan id="f2l" x="741.25" y="564.80" font-size="13.00" fill="#6c6c6c" textLength="61.55" lengthAdjust="spacingAndGlyphs">body-mass</tspan></text>
<text><tspan id="f3a" x="16.55" y="580.80" font-size="13.00" fill="#6c6c6c" textLength="65.12" lengthAdjust="spacingAndGlyphs">index (BMI)</tspan> <tspan id="f3b" x="85.60" y="580.80" font-size="12.49" fill="#6c6c6c" textLength="5.84" lengthAdjust="spacingAndGlyphs">≥</tspan> <tspan id="f3c" x="95.80" y="580.80" font-size="13.00" fill="#6c6c6c" textLength="66.56" lengthAdjust="spacingAndGlyphs">30. BMI is a</tspan> <tspan id="f3d" x="166.45" y="580.80" font-size="13.00" fill="#6c6c6c" textLength="88.21" lengthAdjust="spacingAndGlyphs">person's weight</tspan> <tspan id="f3e" x="258.65" y="580.80" font-size="13.00" fill="#6c6c6c" textLength="75.12" lengthAdjust="spacingAndGlyphs">(in kilograms)</tspan> <tspan id="f3f" x="336.20" y="580.80" font-size="13.00" fill="#6c6c6c" textLength="58.90" lengthAdjust="spacingAndGlyphs">divided by</tspan> <tspan id="f3g" x="398.55" y="580.80" font-size="13.00" fill="#6c6c6c" textLength="65.66" lengthAdjust="spacingAndGlyphs">their height</tspan> <tspan id="f3h" x="466.95" y="580.80" font-size="13.00" fill="#6c6c6c" textLength="59.72" lengthAdjust="spacingAndGlyphs">(in meters)</tspan> <tspan id="f3i" x="529.90" y="580.80" font-size="13.00" fill="#6c6c6c" textLength="48.44" lengthAdjust="spacingAndGlyphs">squared.</tspan></text>
<text id="lg0" class="b" x="773.30" y="30.80" font-size="11.50" fill="#fff" textLength="56.59" lengthAdjust="spacingAndGlyphs">Our World</text>
<text id="lg1" class="b" x="782.75" y="42.80" font-size="11.50" fill="#fff" textLength="37.00" lengthAdjust="spacingAndGlyphs">in Data</text>
<text id="y60" x="15.00" y="96.60" font-size="13.50" fill="#717171" textLength="15.92" lengthAdjust="spacingAndGlyphs">60</text>
<text id="y50" x="15.00" y="164.10" font-size="13.50" fill="#717171" textLength="15.89" lengthAdjust="spacingAndGlyphs">50</text>
<text id="y40" x="15.50" y="231.60" font-size="13.50" fill="#717171" textLength="15.39" lengthAdjust="spacingAndGlyphs">40</text>
<text id="y30" x="15.25" y="299.10" font-size="13.50" fill="#717171" textLength="15.65" lengthAdjust="spacingAndGlyphs">30</text>
<text id="y20" x="15.00" y="366.60" font-size="13.50" fill="#717171" textLength="15.92" lengthAdjust="spacingAndGlyphs">20</text>
<text id="y10" x="14.75" y="434.10" font-size="13.50" fill="#717171" textLength="16.20" lengthAdjust="spacingAndGlyphs">10</text>
<text id="y0" x="22.60" y="501.00" font-size="13.50" fill="#717171" textLength="8.27" lengthAdjust="spacingAndGlyphs">0</text>
<text id="x1995" x="127.88" y="515.00" font-size="13.60" fill="#717171" textLength="30.78" lengthAdjust="spacingAndGlyphs">1995</text>
<text id="x2000" x="236.16" y="515.00" font-size="13.60" fill="#717171" textLength="30.52" lengthAdjust="spacingAndGlyphs">2000</text>
<text id="x2005" x="344.20" y="515.00" font-size="13.60" fill="#717171" textLength="30.30" lengthAdjust="spacingAndGlyphs">2005</text>
<text id="x2010" x="451.98" y="515.00" font-size="13.60" fill="#717171" textLength="30.52" lengthAdjust="spacingAndGlyphs">2010</text>
<text id="x2015" x="560.01" y="515.00" font-size="13.60" fill="#717171" textLength="30.28" lengthAdjust="spacingAndGlyphs">2015</text>
<text id="x1990" x="35.60" y="515.00" font-size="13.60" fill="#717171" textLength="30.47" lengthAdjust="spacingAndGlyphs">1990</text>
<text id="x2021" x="673.85" y="515.00" font-size="13.60" fill="#717171" textLength="30.73" lengthAdjust="spacingAndGlyphs">2021</text>
<text id="f1e" x="741.90" y="545.20" font-size="13.00" fill="#6c6c6c" textLength="87.81" lengthAdjust="spacingAndGlyphs">obesity | CC BY</text>
<text id="lbUS" x="729.30" y="127.30" font-size="13.00" fill="#a2559c" textLength="77.61" lengthAdjust="spacingAndGlyphs">United States</text>
<text id="lbDE" x="729.15" y="256.10" font-size="13.00" fill="#2c8465" textLength="52.23" lengthAdjust="spacingAndGlyphs">Germany</text>
<text id="lbIT" x="729.05" y="275.80" font-size="13.00" fill="#6d3e91" textLength="24.85" lengthAdjust="spacingAndGlyphs">Italy</text>
<text id="lbAU" x="729.90" y="294.00" font-size="13.00" fill="#4c6a9c" textLength="49.52" lengthAdjust="spacingAndGlyphs">Australia</text>
<text id="lbCA" x="729.40" y="312.40" font-size="13.00" fill="#b13507" textLength="42.47" lengthAdjust="spacingAndGlyphs">Canada</text>
<text id="lbUK" x="729.30" y="330.60" font-size="13.00" fill="#00295b" textLength="93.74" lengthAdjust="spacingAndGlyphs">United Kingdom</text>
<text id="lbFR" x="729.60" y="355.90" font-size="13.00" fill="#996d39" textLength="38.45" lengthAdjust="spacingAndGlyphs">France</text>
<text id="lbJP" x="729.35" y="435.80" font-size="13.00" fill="#883039" textLength="33.44" lengthAdjust="spacingAndGlyphs">Japan</text>
</svg></body></html>
